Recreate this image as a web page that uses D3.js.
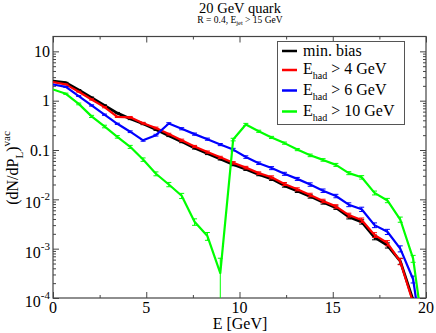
<!DOCTYPE html>
<html>
<head>
  <meta charset="UTF-8">
  <title>20 GeV quark</title>
  <style>
    body { margin: 0; background: #fff; }
    svg text { font-family: "Liberation Serif", "Times New Roman", Times, serif; fill: #000; }
  </style>
</head>
<body>
<svg></svg>
<script src="https://d3js.org/d3.v7.min.js"></script>
<script>
    let width = 436, height = 333;

    // energy bins (GeV)
    var energy = [0, 0.69, 1.38, 2.07, 2.76, 3.45, 4.14, 4.83, 5.52, 6.21,
                  6.9, 7.59, 8.28, 8.97, 9.66, 10.34, 11.03, 11.72, 12.41, 13.1,
                  13.79, 14.48, 15.17, 15.86, 16.55, 17.24, 17.93, 18.62, 19.31, 20.0];

    var minBias = [2.49, 2.31, 1.65, 1.15, 0.80, 0.56, 0.43, 0.34, 0.26, 0.195,
                   0.148, 0.110, 0.085, 0.066, 0.051, 0.041, 0.032, 0.026, 0.019, 0.0148,
                   0.0115, 0.0087, 0.0068, 0.0044, 0.0035, 0.0017, 0.00117, 0.00056, 0.00009, null];

    var had4 = [2.38, 2.14, 1.52, 1.06, 0.74, 0.47, 0.46, 0.35, 0.28, 0.21,
                0.158, 0.118, 0.091, 0.071, 0.055, 0.044, 0.034, 0.028, 0.0205, 0.016,
                0.0123, 0.0093, 0.0072, 0.0048, 0.0038, 0.0019, 0.0013, 0.00055, 0.00008, null];

    var had6 = [2.13, 1.9, 1.24, 0.80, 0.52, 0.34, 0.235, 0.157, 0.20, 0.344,
                0.27, 0.21, 0.166, 0.129, 0.102, 0.072, 0.054, 0.043, 0.033, 0.026,
                0.020, 0.015, 0.0117, 0.0078, 0.0063, 0.003, 0.0022, 0.001, 0.00024, 0.000004];

    var had10 = [1.69, 1.38, 0.86, 0.48, 0.30, 0.185, 0.116, 0.064, 0.033, 0.02,
                 0.0118, 0.0035, 0.0018, 0.00032, 0.163, 0.33, 0.24, 0.18, 0.138, 0.102,
                 0.078, 0.063, 0.050, 0.034, 0.028, 0.0135, 0.0095, 0.0039, 0.00063, 0.000008];

    // relative errors
    var relErr = [0.02, 0.02, 0.02, 0.03, 0.03, 0.03, 0.04, 0.04, 0.04, 0.04,
                  0.05, 0.05, 0.05, 0.05, 0.06, 0.06, 0.06, 0.07, 0.07, 0.07,
                  0.08, 0.08, 0.08, 0.09, 0.1, 0.11, 0.12, 0.14, 0.16, 0.16];
    var relErr10 = [0.03, 0.03, 0.04, 0.05, 0.06, 0.06, 0.07, 0.08, 0.09, 0.1,
                    0.12, 0.15, 0.18, 1.0, 0.06, 0.05, 0.05, 0.05, 0.05, 0.05,
                    0.06, 0.06, 0.07, 0.07, 0.08, 0.09, 0.1, 0.12, 0.16, 0.16];

    var seriesNames = ["min. bias", "> 4 GeV", "> 6 GeV", "> 10 GeV"];
    var seriesColors = ["#000000", "#ff0000", "#0000ff", "#00ff00"];
    var seriesValues = [minBias, had4, had6, had10];
    var seriesErrors = [relErr, relErr, relErr, relErr10];

    var xTicks = [0, 5, 10, 15, 20];
    var xMinor = [2.5, 7.5, 12.5, 17.5];
    var yTicks = [10, 1, 0.1, 0.01, 0.001, 0.0001];
    var yTickBase = ["10", "1", "0.1", "10", "10", "10"];
    var yTickExp = ["", "", "", "-2", "-3", "-4"];

    let svg = d3.select("svg")
        .attr("width", width)
        .attr("height", height);

    var pLeft = 53, pRight = 426, pTop = 36.5, pBottom = 298;

    var x = d3.scaleLinear().domain([0, 20]).range([pLeft, pRight]);
    var y = d3.scaleLog().domain([1e-4, 20]).range([pBottom, pTop]);

    // minor ticks for log axis
    var yMinor = [];
    for (let e = -4; e <= 1; e++) {
        for (let m = 2; m <= 9; m++) {
            let v = m * Math.pow(10, e);
            if (v < 20) yMinor.push(v);
        }
    }

    svg.append("clipPath").attr("id", "clip")
        .append("rect")
        .attr("x", pLeft).attr("y", pTop)
        .attr("width", pRight - pLeft).attr("height", pBottom - pTop);

    // axes with inward ticks
    var axisColor = "#444";
    function styleAxis(g) {
        g.select(".domain").remove();
        g.selectAll("line").attr("stroke", axisColor);
        g.selectAll("text").remove();
    }
    svg.append("g").attr("transform", "translate(0," + pBottom + ")")
        .call(d3.axisBottom(x).tickValues(xTicks).tickSize(-6)).call(styleAxis);
    svg.append("g").attr("transform", "translate(0," + pBottom + ")")
        .call(d3.axisBottom(x).tickValues(xMinor).tickSize(-3)).call(styleAxis);
    svg.append("g").attr("transform", "translate(0," + pTop + ")")
        .call(d3.axisTop(x).tickValues(xTicks).tickSize(-6)).call(styleAxis);
    svg.append("g").attr("transform", "translate(0," + pTop + ")")
        .call(d3.axisTop(x).tickValues(xMinor).tickSize(-3)).call(styleAxis);
    svg.append("g").attr("transform", "translate(" + pLeft + ",0)")
        .call(d3.axisLeft(y).tickValues(yTicks).tickSize(-6)).call(styleAxis);
    svg.append("g").attr("transform", "translate(" + pLeft + ",0)")
        .call(d3.axisLeft(y).tickValues(yMinor).tickSize(-3)).call(styleAxis);
    svg.append("g").attr("transform", "translate(" + pRight + ",0)")
        .call(d3.axisRight(y).tickValues(yTicks).tickSize(-6)).call(styleAxis);
    svg.append("g").attr("transform", "translate(" + pRight + ",0)")
        .call(d3.axisRight(y).tickValues(yMinor).tickSize(-3)).call(styleAxis);

    svg.append("rect")
        .attr("x", pLeft).attr("y", pTop)
        .attr("width", pRight - pLeft).attr("height", pBottom - pTop)
        .attr("fill", "none").attr("stroke", axisColor).attr("stroke-width", 1.2);

    // tick labels
    svg.selectAll("text.xtick")
        .data(xTicks)
        .enter().append("text")
        .attr("class", "xtick")
        .attr("x", d => x(d))
        .attr("y", 313)
        .attr("text-anchor", "middle")
        .style("font-size", "16px")
        .text(d => d);

    yTicks.forEach(function(v, i) {
        var t = svg.append("text")
            .attr("x", 50)
            .attr("y", y(v) + (yTickExp[i] ? 9 : 5.5))
            .attr("text-anchor", "end")
            .style("font-size", "16px");
        t.append("tspan").text(yTickBase[i]);
        if (yTickExp[i]) {
            t.append("tspan").attr("dy", -8).style("font-size", "11px").text(yTickExp[i]);
        }
    });

    // curves
    var plot = svg.append("g").attr("clip-path", "url(#clip)");

    seriesValues.forEach(function(vals, s) {
        var pts = energy.map((e, i) => ({e: e, v: vals[i], err: seriesErrors[s][i]}));
        var line = d3.line()
            .defined(d => d.v !== null)
            .x(d => x(d.e))
            .y(d => y(d.v));

        var eb = plot.append("g").attr("stroke", seriesColors[s]).attr("stroke-width", 1);
        pts.filter(d => d.v !== null && d.v > 1e-4 && d.e > 0 && d.e < 20).forEach(function(d) {
            var lo = d.err >= 1 ? 1e-6 : d.v * (1 - d.err);
            var hi = d.v * (1 + d.err);
            var cx = x(d.e);
            eb.append("line").attr("x1", cx).attr("x2", cx).attr("y1", y(lo)).attr("y2", y(hi));
            eb.append("line").attr("x1", cx - 2.5).attr("x2", cx + 2.5).attr("y1", y(hi)).attr("y2", y(hi));
            if (d.err < 1) {
                eb.append("line").attr("x1", cx - 2.5).attr("x2", cx + 2.5).attr("y1", y(lo)).attr("y2", y(lo));
            }
        });

        plot.append("path")
            .datum(pts)
            .attr("d", line)
            .attr("fill", "none")
            .attr("stroke", seriesColors[s])
            .attr("stroke-width", s == 0 ? 2.8 : 2.2)
            .attr("stroke-linejoin", "round");
    });

    // legend
    var lg = svg.append("g");
    lg.append("rect")
        .attr("x", 277.5).attr("y", 41.5)
        .attr("width", 127).attr("height", 83)
        .attr("fill", "#fff").attr("stroke", "#555").attr("stroke-width", 1);

    var legendY = [51, 70, 90.5, 111.5];
    seriesNames.forEach(function(name, i) {
        lg.append("line")
            .attr("x1", 282).attr("x2", 297)
            .attr("y1", legendY[i]).attr("y2", legendY[i])
            .attr("stroke", seriesColors[i]).attr("stroke-width", 2.5);
        var t = lg.append("text")
            .attr("x", 303)
            .attr("y", legendY[i] + (i == 0 ? 5 : 4))
            .style("font-size", "16px");
        if (i == 0) {
            t.text(name);
        } else {
            t.append("tspan").text("E");
            t.append("tspan").attr("dy", 5).style("font-size", "10px").text("had");
            t.append("tspan").attr("dy", -5).text(" " + name);
        }
    });

    // titles
    svg.append("text")
        .attr("x", 240).attr("y", 12.5)
        .attr("text-anchor", "middle")
        .style("font-size", "14.5px")
        .text("20 GeV quark");

    var sub = svg.append("text")
        .attr("x", 240).attr("y", 22.5)
        .attr("text-anchor", "middle")
        .style("font-size", "9.5px");
    sub.append("tspan").text("R = 0.4, E");
    sub.append("tspan").attr("dy", 2.5).style("font-size", "6.5px").text("jet");
    sub.append("tspan").attr("dy", -2.5).text(" > 15 GeV");

    svg.append("text")
        .attr("x", 240).attr("y", 329)
        .attr("text-anchor", "middle")
        .style("font-size", "16px")
        .text("E [GeV]");

    var yl = svg.append("text")
        .attr("transform", "translate(18,168) rotate(-90)")
        .attr("text-anchor", "middle")
        .style("font-size", "16px");
    yl.append("tspan").text("(dN/dP");
    yl.append("tspan").attr("dy", 5).style("font-size", "11px").text("L");
    yl.append("tspan").attr("dy", -5).text(")");
    yl.append("tspan").attr("dy", -8).style("font-size", "11px").text("vac");
</script>
</body>
</html>
